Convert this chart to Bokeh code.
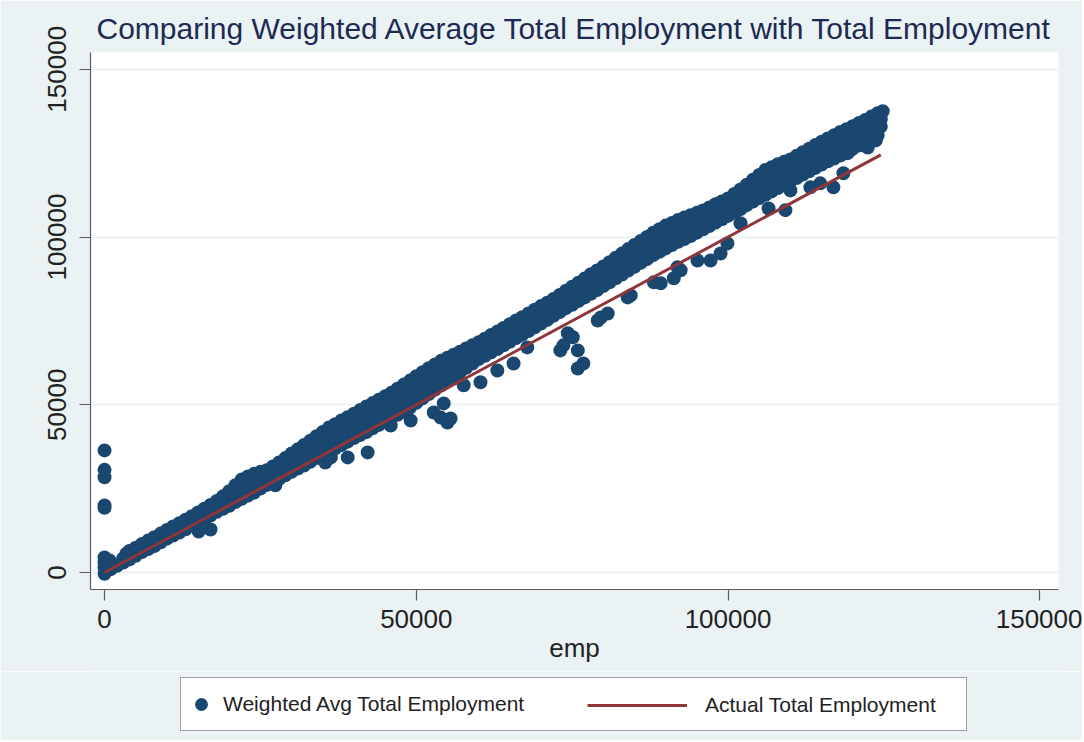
from bokeh.plotting import figure
from bokeh.layouts import column
from bokeh.models import Range1d, FixedTicker, Legend, LegendItem
from bokeh.embed import file_html
from bokeh.resources import INLINE

FONT = "Liberation Sans"

# ---------------- data ----------------
title_text = "Comparing Weighted Average Total Employment with Total Employment"
x_axis_title = "emp"
legend_labels = ["Weighted Avg Total Employment", "Actual Total Employment"]

x_ticks = [0, 50000, 100000, 150000]
x_tick_labels = ["0", "50000", "100000", "150000"]
y_ticks = [0, 50000, 100000, 150000]
y_tick_labels = ["0", "50000", "100000", "150000"]

# points at emp ~ 0
zero_emp = [0, 0, 0, 0, 300, 300, 800, 800, 1200, 3500, 4200, 0, 0, 0, 0, 0]
zero_wavg = [-400, 1500, 3000, 4500, 800, 2600, 1200, 3600, 2000, 5600, 5300,
             36400, 30600, 28400, 20000, 19300]

# lower edge of the main band
low_emp = [1000, 2000, 3000, 4000, 5000, 6000, 7000, 8000, 9000, 10000, 11000, 12000,
           13000, 14000, 15000, 16000, 17000, 18000, 19000, 20000, 21000, 22000,
           23000, 24000, 25000, 26000, 27000, 28000, 29000, 30000, 31000, 32000,
           33000, 34000, 35000, 36000, 37000, 38000, 39000, 40000, 41000, 42000,
           43000, 44000, 45000, 46000, 47000, 48000, 49000, 50000, 51000, 52000,
           53000, 54000, 55000, 56000, 57000, 58000, 59000, 60000, 61000, 62000,
           63000, 64000, 65000, 66000, 67000, 68000, 69000, 70000, 71000, 72000,
           73000, 74000, 75000, 76000, 77000, 78000, 79000, 80000, 81000, 82000,
           83000, 84000, 85000, 86000, 87000, 88000, 89000, 90000, 91000, 92000,
           93000, 94000, 95000, 96000, 97000, 98000, 99000, 100000, 101000, 102000,
           103000, 104000, 105000, 106000, 107000, 108000, 109000, 110000, 111000,
           112000, 113000, 114000, 115000, 116000, 117000, 118000, 119000, 120000,
           121000, 122000, 123000, 124000]
low_wavg = [1000, 2000, 3000, 3900, 5000, 6100, 7000, 7900, 9000, 10100, 11000, 11900,
            12900, 14000, 15000, 15800, 17000, 18100, 19000, 19900, 21000, 22000,
            22900, 23800, 25000, 26100, 27000, 27900, 29000, 30000, 31000, 31900,
            33000, 34100, 35000, 35900, 37000, 38000, 39000, 40100, 41000, 41900,
            43000, 44000, 45000, 46100, 47000, 47900, 49200, 50600, 51900, 53200,
            54500, 55800, 57100, 58400, 59700, 61000, 62300, 63600, 64600, 65600,
            66600, 67700, 68800, 69900, 70900, 72000, 73100, 74200, 75300, 76500,
            77600, 78800, 79800, 80900, 82000, 83100, 84200, 85400, 86500, 87700,
            88800, 90000, 91100, 92300, 93400, 94600, 95600, 96600, 97600, 98600,
            99400, 100300, 101300, 102300, 103300, 104300, 105300, 106300, 107300, 108300,
            109500, 110600, 111600, 112600, 113600, 114600, 115600, 116600, 117600,
            118600, 119600, 120600, 121600, 122600, 123400, 124300, 125300, 126300,
            127300, 128300, 129300, 130300]

# upper edge of the main band
top_emp = [4000, 5000, 6000, 7000, 8000, 9000, 10000, 11000, 12000, 13000, 14000,
           15000, 16000, 17000, 18000, 19000, 20000, 21000, 22000, 23000, 24000,
           25000, 26000, 27000, 28000, 29000, 30000, 31000, 32000, 33000, 34000,
           35000, 36000, 37000, 38000, 39000, 40000, 41000, 42000, 43000, 44000,
           45000, 46000, 47000, 48000, 49000, 50000, 51000, 52000, 53000, 54000,
           55000, 56000, 57000, 58000, 59000, 60000, 61000, 62000, 63000, 64000,
           65000, 66000, 67000, 68000, 69000, 70000, 71000, 72000, 73000, 74000,
           75000, 76000, 77000, 78000, 79000, 80000, 81000, 82000, 83000, 84000,
           85000, 86000, 87000, 88000, 89000, 90000, 91000, 92000, 93000, 94000,
           95000, 96000, 97000, 98000, 99000, 100000, 101000, 102000, 103000, 104000,
           105000, 106000, 107000, 108000, 109000, 110000, 111000, 112000, 113000,
           114000, 115000, 116000, 117000, 118000, 119000, 120000, 121000, 122000,
           123000, 124000, 124800]
top_wavg = [6400, 7400, 8500, 9500, 10500, 11600, 12700, 13700, 14700, 15700, 16800,
            17900, 19000, 20100, 21300, 22700, 24200, 26000, 27700, 28600, 29400,
            30000, 30500, 31600, 32800, 34100, 35500, 36700, 38000, 39300, 40600,
            41900, 43200, 44200, 45300, 46300, 47300, 48400, 49500, 50500, 51500,
            52500, 53600, 54800, 56000, 57200, 58500, 59700, 60900, 62000, 63100,
            64000, 64900, 65800, 66800, 67700, 68600, 69700, 70800, 71800, 72900,
            74000, 75100, 76100, 77200, 78300, 79400, 80400, 81500, 82700, 84000,
            85200, 86400, 87600, 88900, 90000, 91200, 92500, 93800, 95100, 96400,
            97600, 98800, 100000, 101300, 102300, 103400, 104200, 105100, 105800, 106500,
            107200, 107900, 108800, 109800, 110600, 111500, 112800, 114200, 115600, 117100,
            118500, 120000, 120800, 121700, 122400, 123100, 124200, 125300, 126300,
            127400, 128400, 129400, 130300, 131300, 132100, 133000, 134000, 134900,
            135900, 136900, 137500]

# inside of the main band
mid_emp = [3000, 4000, 5000, 6000, 7000, 8000, 9000, 10000, 11000, 12000, 13000,
           14000, 15000, 16000, 17000, 18000, 19000,
           20000, 21000, 22000, 23000, 24000, 25000, 26000, 27000, 28000, 29000,
           30000, 31000, 32000, 33000,
           34000, 34000, 35000, 35000, 36000, 36000, 37000, 37000, 38000, 38000,
           39000, 39000, 40000, 40000, 41000, 41000, 42000, 42000, 43000, 43000,
           44000, 44000, 45000, 45000, 46000, 46000, 47000, 47000, 48000, 48000,
           49000, 49000, 50000, 50000, 51000, 51000, 52000, 52000, 53000, 53000,
           54000, 54000, 55000, 55000, 56000, 56000, 57000, 57000,
           58000, 59000, 60000, 61000, 62000, 63000, 64000, 65000, 66000, 67000,
           68000, 69000, 70000, 71000, 72000, 73000, 74000, 75000, 76000, 77000,
           78000, 79000, 80000, 81000,
           82000, 82000, 83000, 83000, 84000, 84000, 85000, 85000, 86000, 86000,
           87000, 87000, 88000, 88000, 89000, 89000, 90000, 90000, 91000, 91000,
           92000, 92000, 93000, 93000, 94000, 94000, 95000, 95000,
           96000, 97000, 98000, 99000, 100000, 101000, 102000, 103000,
           104000, 104000, 105000, 105000, 106000, 106000, 107000, 107000, 108000,
           108000, 109000, 109000, 110000, 110000, 111000, 111000, 112000, 112000,
           113000, 113000, 114000, 114000, 115000, 115000, 116000, 116000, 117000,
           117000, 118000, 118000, 119000, 119000, 120000, 120000, 121000, 121000,
           122000, 122000, 123000, 123000, 124000, 124000, 124500, 124500]
mid_wavg = [4200, 5200, 6300, 7300, 8300, 9200, 10300, 11400, 12300, 13300, 14400,
            15400, 16400, 17400, 18500, 19700, 20700,
            22000, 23100, 24800, 25800, 26600, 27700, 28300, 29200, 30300, 31400,
            32700, 33800, 35000, 36000,
            36300, 38500, 37200, 39400, 38400, 40800, 39400, 41800, 40400, 42900,
            41400, 43900, 42500, 44900, 43400, 45900, 44400, 47000, 45500, 48000,
            46500, 49000, 47500, 50000, 48600, 51100, 49500, 52100, 50600, 53300,
            51700, 54400, 53200, 55900, 54200, 56900, 55700, 58300, 56800, 59300,
            58200, 60600, 59200, 61600, 60600, 62800, 61600, 63800,
            63900, 64900, 66100, 67100, 68200, 69200, 70300, 71300, 72500, 73500,
            74600, 75600, 76800, 77800, 79000, 80000, 81400, 82400, 83700, 84700,
            86000, 87000, 88300, 89300,
            89700, 91700, 90700, 92700, 92100, 94200, 93100, 95200, 94400, 96600,
            95400, 97600, 96800, 99000, 97800, 100000, 98800, 101100, 99800, 102100,
            100700, 102900, 101700, 103900, 102300, 104400, 103300, 105400,
            105100, 106100, 107000, 108000, 108900, 109900, 111300, 112200,
            112700, 114900, 113700, 115900, 115000, 117500, 116000, 118500, 116900,
            119300, 117900, 120300, 118700, 120900, 119700, 121900, 120800, 123000,
            121800, 124000, 122800, 125100, 123800, 126100, 124800, 127100, 125800,
            128100, 126600, 128900, 127600, 129900, 128500, 130700, 129500, 131700,
            130400, 132600, 131400, 133600, 132400, 134600, 132900, 135100]

# points lying at or below the 45-degree line
off_emp = [15100, 17000, 27400, 35400, 36300, 39000, 42200,
           45900, 49100, 52800, 53900, 55000, 55500, 54400, 57600, 60300, 63000,
           65600, 67800, 73100, 74300, 75100, 75900, 76800, 75900, 73600,
           79100, 79600, 80700, 83900, 84400, 88100, 89200, 91300, 92400, 91900,
           95100, 97200, 98800, 99900, 102000, 106500, 109200, 110000, 113200,
           114800, 116900, 118500, 119200, 122400, 123700]
off_wavg = [12200, 12800, 26000, 32800, 34300, 34300, 35800,
            43800, 45300, 47700, 46200, 44700, 45900, 50400, 55800, 56700, 60200,
            62300, 67100, 66200, 71300, 70100, 66200, 62300, 60800, 67700,
            75100, 76000, 77200, 82000, 82600, 86500, 86200, 87700, 90100, 91000,
            93000, 93000, 95100, 98100, 104100, 108500, 108000, 113900, 114800,
            116000, 114800, 119000, 125000, 126700, 128800]

# actual total employment (45-degree reference line)
line_emp = [0, 124500]
line_actual = [0, 124500]

scatter_emp = zero_emp + low_emp + mid_emp + top_emp + off_emp
scatter_wavg = zero_wavg + low_wavg + mid_wavg + top_wavg + off_wavg

# ---------------- styling ----------------
BG = "#eaf2f3"
NAVY = "#1a476f"
MAROON = "#90353b"
TEXT = "#222222"

p = figure(width=1082, height=671, output_backend="svg", toolbar_location=None,
           x_range=Range1d(-2250, 153000), y_range=Range1d(-5070, 155000),
           min_border_left=90, min_border_right=24, min_border_top=52,
           min_border_bottom=82, title=title_text)

p.background_fill_color = "white"
p.border_fill_color = BG
p.outline_line_color = None

p.title.text_font = FONT
p.title.text_font_size = "30px"
p.title.text_font_style = "normal"
p.title.text_color = "#1c2a54"
p.title.align = "center"
p.title.standoff = 16

for ax in (p.xaxis[0], p.yaxis[0]):
    ax.axis_line_color = "#5a5a5a"
    ax.axis_line_width = 1.2
    ax.major_tick_line_color = "#5a5a5a"
    ax.major_tick_line_width = 1.2
    ax.major_tick_out = 11
    ax.major_tick_in = 0
    ax.minor_tick_line_color = None
    ax.major_label_text_font = FONT
    ax.major_label_text_font_size = "26px"
    ax.major_label_text_color = TEXT

p.xaxis.ticker = FixedTicker(ticks=x_ticks)
p.xaxis.major_label_overrides = dict(zip(x_ticks, x_tick_labels))
p.xaxis.major_label_standoff = 9
p.xaxis.axis_label = x_axis_title
p.xaxis.axis_label_text_font = FONT
p.xaxis.axis_label_text_font_size = "26px"
p.xaxis.axis_label_text_font_style = "normal"
p.xaxis.axis_label_text_color = TEXT
p.xaxis.axis_label_standoff = 2

p.yaxis.ticker = FixedTicker(ticks=y_ticks)
p.yaxis.major_label_overrides = dict(zip(y_ticks, y_tick_labels))
p.yaxis.major_label_orientation = "vertical"
p.yaxis.major_label_standoff = 13

p.xgrid.visible = False
p.ygrid.grid_line_color = BG
p.ygrid.grid_line_width = 2

sc = p.scatter(scatter_emp, scatter_wavg, size=14, fill_color=NAVY, line_color=None)
ln = p.line(line_emp, line_actual, line_color=MAROON, line_width=3)

# ---------------- legend strip below the chart ----------------
# The strip's view range lies away from the data, so its renderers only
# serve as legend samples (nothing is drawn in the strip itself).
k = figure(width=1082, height=69, output_backend="svg", toolbar_location=None,
           x_axis_location=None, y_axis_location=None, min_border=0,
           x_range=Range1d(-20, -10), y_range=Range1d(-20, -10))
k.background_fill_color = BG
k.border_fill_color = BG
k.outline_line_color = None
k.grid.visible = False
k_sc = k.scatter(scatter_emp, scatter_wavg, size=14, fill_color=NAVY, line_color=None)
k_ln = k.line(line_emp, line_actual, line_color=MAROON, line_width=3)

leg_a = Legend(items=[LegendItem(label=legend_labels[0], renderers=[k_sc], index=0)],
               location=(90, 9), orientation="horizontal",
               glyph_width=32, glyph_height=44, label_height=44, label_width=739,
               label_standoff=6, padding=4, margin=0, spacing=0,
               border_line_color="#444444", border_line_width=1.2,
               background_fill_color="white", background_fill_alpha=1.0,
               label_text_font=FONT, label_text_font_size="21px",
               label_text_color=TEXT)
leg_b = Legend(items=[LegendItem(label=legend_labels[1], renderers=[k_ln])],
               location=(497, 13), orientation="horizontal",
               glyph_width=100, glyph_height=44, label_height=44,
               label_standoff=18, padding=4, margin=0, spacing=0,
               border_line_color=None, background_fill_alpha=0.0,
               label_text_font=FONT, label_text_font_size="21px",
               label_text_color=TEXT)
k.add_layout(leg_a)
k.add_layout(leg_b)

page = column(p, k, spacing=0)
open("out.html", "w").write(file_html(page, INLINE))
